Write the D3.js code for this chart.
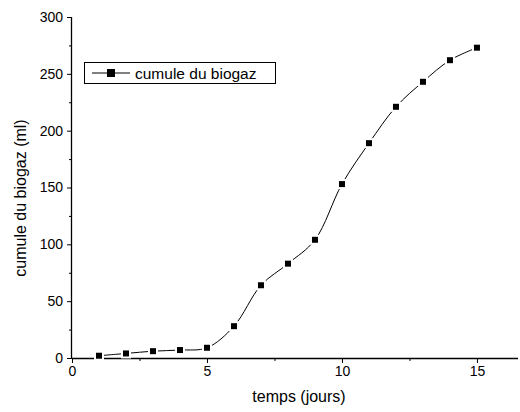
<!DOCTYPE html>
<html><head><meta charset="utf-8">
<script src="https://cdn.jsdelivr.net/npm/d3@7"></script>
<style>body{margin:0;background:#fff}svg{display:block}text{font-family:"Liberation Sans",Arial,sans-serif;fill:#000}</style>
</head><body>
<svg id="c" width="520" height="412"></svg>
<script>
const days = [1,2,3,4,5,6,7,8,9,10,11,12,13,14,15];
const biogas = [2,4,6,7,9,28,64,83,104,153,189,221,243,262,273];
const xTicks = [0,5,10,15];
const xMinor = [2.5,7.5,12.5];
const yTicks = [0,50,100,150,200,250,300];
const yMinor = [25,75,125,175,225,275];
const seriesName = "cumule du biogaz";

const svg = d3.select("#c");
const pL = 72, pR = 518, pT = 17, pB = 358;
const x = d3.scaleLinear().domain([0,16.52]).range([pL,pR]);
const y = d3.scaleLinear().domain([0,300]).range([pB,pT]);

function styleAxis(g){
  g.selectAll(".domain").attr("stroke","#000").attr("stroke-width",1.3);
  g.selectAll(".tick line").attr("stroke","#000").attr("stroke-width",1);
  g.selectAll("text").style("font-size","14px").style("font-family","Liberation Sans, Arial");
}
const gxm = svg.append("g").attr("transform",`translate(0,${pB})`)
  .call(d3.axisBottom(x).tickValues(xMinor).tickSize(3).tickFormat(""));
gxm.select(".domain").remove();
const gx = svg.append("g").attr("transform",`translate(0,${pB})`)
  .call(d3.axisBottom(x).tickValues(xTicks).tickSize(5).tickPadding(3).tickFormat(d3.format("d")));
gx.select(".domain").attr("d",`M${pL},0.5H${pR}`);
styleAxis(gxm); styleAxis(gx);

const gym = svg.append("g").attr("transform",`translate(${pL},0)`)
  .call(d3.axisLeft(y).tickValues(yMinor).tickSize(3).tickFormat(""));
gym.select(".domain").remove();
const gy = svg.append("g").attr("transform",`translate(${pL},0)`)
  .call(d3.axisLeft(y).tickValues(yTicks).tickSize(5).tickPadding(4).tickFormat(d3.format("d")));
gy.select(".domain").attr("d",`M-0.5,${pB}V${pT}`);
styleAxis(gym); styleAxis(gy);

const pts = days.map((d,i)=>[d,biogas[i]]);
svg.append("path").datum(pts)
  .attr("d",d3.line().x(d=>x(d[0])).y(d=>y(d[1])).curve(d3.curveCatmullRom.alpha(0.5)))
  .attr("fill","none").attr("stroke","#000").attr("stroke-width",1);
svg.selectAll("rect.m").data(pts).join("rect").attr("class","m")
  .attr("x",d=>x(d[0])-4).attr("y",d=>y(d[1])-4).attr("width",8).attr("height",8)
  .attr("fill","#000").attr("stroke","#fff").attr("stroke-width",2);

// legend
const lg = svg.append("g");
lg.append("rect").attr("x",84.5).attr("y",62.5).attr("width",191).attr("height",21)
  .attr("fill","#fff").attr("stroke","#000").attr("stroke-width",1);
lg.append("line").attr("x1",92).attr("x2",130).attr("y1",73).attr("y2",73).attr("stroke","#000");
lg.append("rect").attr("x",107).attr("y",69).attr("width",8).attr("height",8).attr("fill","#000");
lg.append("text").attr("x",135).attr("y",78.5).style("font-size","15.5px").text(seriesName);

svg.append("text").attr("x",299).attr("y",402).attr("text-anchor","middle").style("font-size","16px").text("temps (jours)");
svg.append("text").attr("transform",`translate(26,198) rotate(-90)`).attr("text-anchor","middle").style("font-size","16px").text("cumule du biogaz (ml)");
</script>
</body></html>
